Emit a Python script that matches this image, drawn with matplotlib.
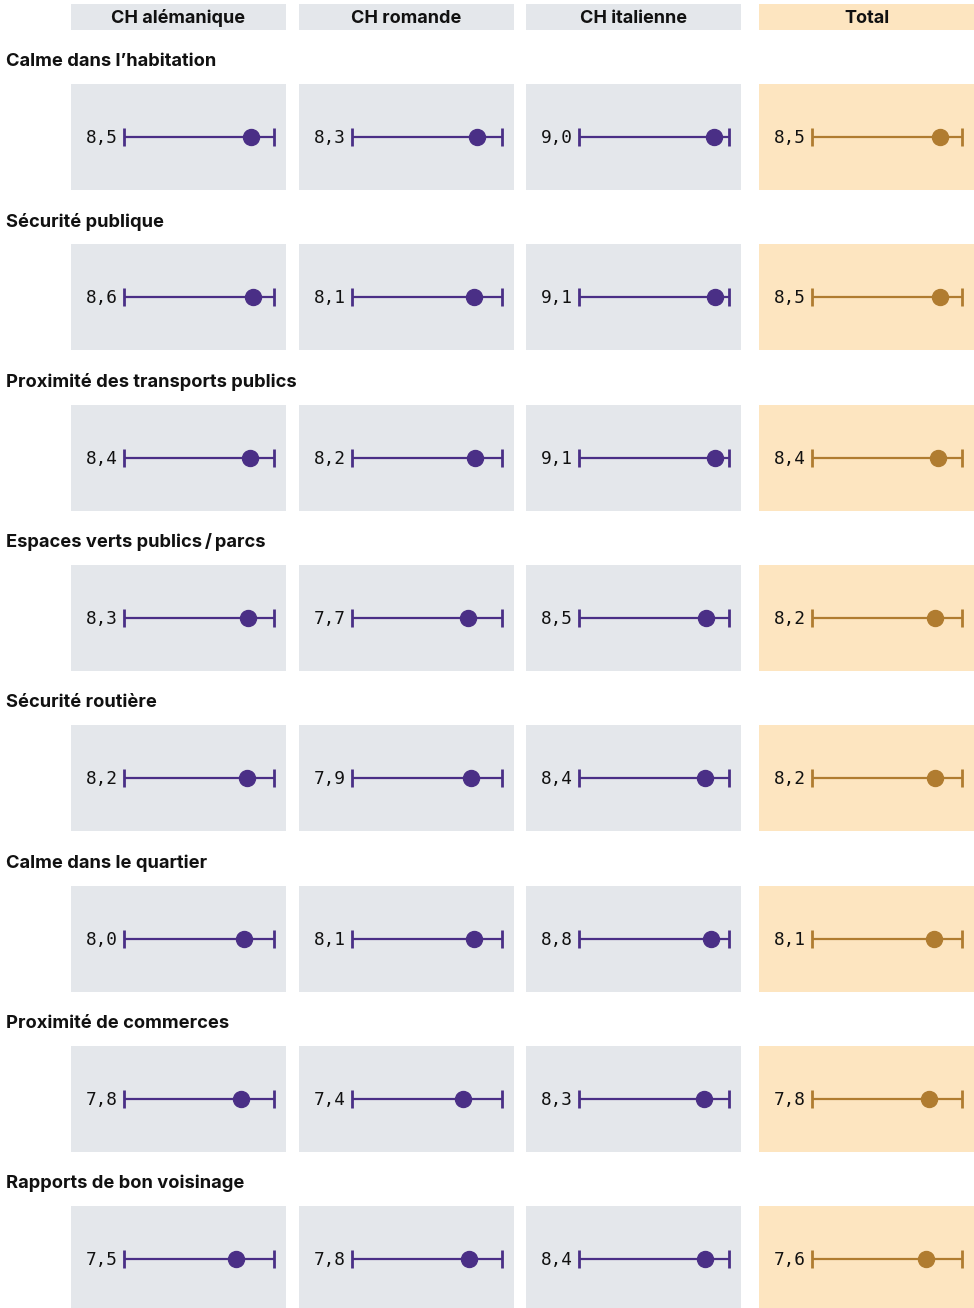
import matplotlib.pyplot as plt

# ===== Data =====
regions = ['CH alémanique', 'CH romande', 'CH italienne', 'Total']
items = ['Calme dans l\u2019habitation', 'Sécurité publique', 'Proximité des transports publics',
         'Espaces verts publics\u2009/\u2009parcs', 'Sécurité routière', 'Calme dans le quartier',
         'Proximité de commerces', 'Rapports de bon voisinage']
ch_alemanique = [8.5, 8.6, 8.4, 8.3, 8.2, 8.0, 7.8, 7.5]
ch_romande = [8.3, 8.1, 8.2, 7.7, 7.9, 8.1, 7.4, 7.8]
ch_italienne = [9.0, 9.1, 9.1, 8.5, 8.4, 8.8, 8.3, 8.4]
total = [8.5, 8.5, 8.4, 8.2, 8.2, 8.1, 7.8, 7.6]
scale_min, scale_max = 0, 10

# ===== Style =====
W, H = 974, 1308
purple = '#4a2f86'
gold = '#b07c30'
grey_bg = '#e4e7eb'
cream_bg = '#fde5c0'
plt.rcParams['font.family'] = ['Inter', 'DejaVu Sans']

fig = plt.figure(figsize=(W / 100, H / 100), dpi=100)
col_x = [71, 299, 526, 759]
col_w = 215
row_pitch = 160.3


def px_axes(x, y, w, h):
    # pixel box (top-left origin) -> figure axes
    return fig.add_axes([x / W, 1 - (y + h) / H, w / W, h / H])


# headers
for j, name in enumerate(regions):
    ax = px_axes(col_x[j], 4, col_w, 26)
    ax.set_facecolor(cream_bg if j == 3 else grey_bg)
    ax.set_xticks([])
    ax.set_yticks([])
    for s in ax.spines.values():
        s.set_visible(False)
    ax.text(0.5, 0.45, name, ha='center', va='center', fontsize=13, fontweight='bold',
            color='#111111', transform=ax.transAxes)

series = [ch_alemanique, ch_romande, ch_italienne, total]
for i, item in enumerate(items):
    top = 84 + i * row_pitch
    fig.text(6 / W, 1 - (top - 22.5) / H, item, ha='left', va='center', fontsize=13.2,
             fontweight='bold', color='#111111')
    for j in range(4):
        ax = px_axes(col_x[j], top, col_w, 106)
        ax.set_facecolor(cream_bg if j == 3 else grey_bg)
        color = gold if j == 3 else purple
        unit = 150 / (scale_max - scale_min)
        ax.set_xlim(scale_min - 53 / unit, scale_min + (col_w - 53) / unit)
        ax.set_ylim(0, 1)
        ax.set_xticks([])
        ax.set_yticks([])
        for s in ax.spines.values():
            s.set_visible(False)
        v = series[j][i]
        ax.plot([scale_min, scale_max], [0.5, 0.5], color=color, lw=1.6, solid_capstyle='butt')
        ax.plot([scale_min, scale_max], [0.5, 0.5], ls='none', marker='|', ms=13, mew=2, color=color)
        ax.plot([v], [0.5], marker='o', ms=11.5, color=color, mec=color)
        ax.text(scale_min - 6 / unit, 0.49, f'{v:.1f}'.replace('.', ','), ha='right', va='center',
                fontsize=12.8, family='DejaVu Sans Mono', color='#111111')

fig.savefig('out.png', dpi=100, facecolor='white')
